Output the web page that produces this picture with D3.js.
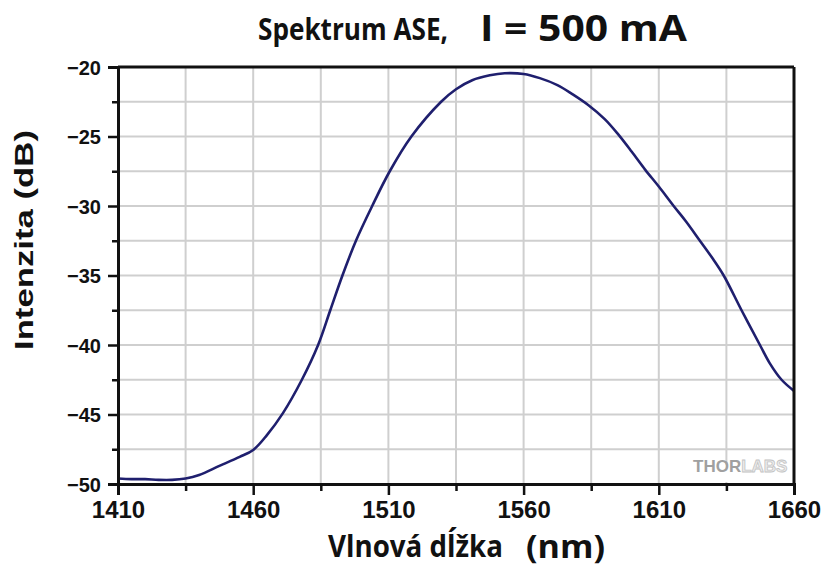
<!DOCTYPE html>
<html>
<head>
<meta charset="utf-8">
<script src="https://cdn.jsdelivr.net/npm/d3@7"></script>
<style>
  html, body { margin: 0; padding: 0; background: #fff; }
  svg { display: block; }
  .grid line { stroke: #cfcfcf; stroke-width: 2px; }
  .axis path, .axis line { stroke: #111; }
  .axis path { stroke-width: 3px; }
  .axis line { stroke-width: 2.5px; }
  .axis text { fill: #111; font-family: "Liberation Sans", Arial, sans-serif; font-weight: bold; }
</style>
</head>
<body>
<div id="chart"></div>
<script>
// ASE spectrum, pump current 500 mA
var wavelength = [1410, 1415, 1420, 1425, 1430, 1435, 1440, 1447.5, 1455, 1460,
                  1465, 1471, 1478, 1484, 1488.5, 1493, 1498, 1504, 1510.5, 1518.5,
                  1529.5, 1535, 1541, 1547.5, 1553, 1560, 1566, 1572.5, 1578, 1584,
                  1590, 1595, 1600, 1605, 1610, 1615.5, 1620, 1625.2, 1630, 1634,
                  1640.6, 1647.4, 1651, 1655.4, 1660];
var intensity  = [-49.6, -49.65, -49.65, -49.7, -49.7, -49.6, -49.35, -48.7, -48.05, -47.55,
                  -46.5, -44.9, -42.5, -40.0, -37.5, -35.0, -32.5, -30.0, -27.5, -25.0,
                  -22.5, -21.6, -20.95, -20.6, -20.45, -20.5, -20.8, -21.3, -21.95, -22.75,
                  -23.75, -24.85, -26.1, -27.4, -28.6, -30.0, -31.1, -32.5, -33.8, -35.0,
                  -37.5, -40.0, -41.3, -42.5, -43.3];
var x_ticks       = [1410, 1460, 1510, 1560, 1610, 1660];
var x_minor_ticks = [1435, 1485, 1535, 1585, 1635];
var y_ticks       = [-50, -45, -40, -35, -30, -25, -20];
var y_minor_ticks = [-47.5, -42.5, -37.5, -32.5, -27.5, -22.5];

var width  = 825;
var height = 569;
var left   = 118;
var right  = 794;
var top_y  = 67;
var bottom = 484;

var svg = d3.select("#chart").append("svg")
  .attr("width", width)
  .attr("height", height);

var x = d3.scaleLinear().domain([1410, 1660]).range([left, right]);
var y = d3.scaleLinear().domain([-50, -20]).range([bottom, top_y]);

// grid, every major and minor tick
var grid = svg.append("g").attr("class", "grid");
grid.selectAll("line.v")
  .data(x_ticks.concat(x_minor_ticks).filter(function (d) { return d > 1410 && d < 1660; }))
  .enter().append("line")
  .attr("class", "v")
  .attr("x1", function (d) { return x(d); })
  .attr("x2", function (d) { return x(d); })
  .attr("y1", y(-20))
  .attr("y2", y(-50));
grid.selectAll("line.h")
  .data(y_ticks.concat(y_minor_ticks).filter(function (d) { return d > -50 && d < -20; }))
  .enter().append("line")
  .attr("class", "h")
  .attr("x1", x(1410))
  .attr("x2", x(1660))
  .attr("y1", function (d) { return y(d); })
  .attr("y2", function (d) { return y(d); });

// logo patch in the lower right corner hides the grid under it
svg.append("rect")
  .attr("x", x(1619.5))
  .attr("y", y(-48.6))
  .attr("width", x(1660) - x(1619.5) - 2)
  .attr("height", y(-50) - y(-48.6) - 2)
  .attr("fill", "#fff");
var logo = svg.append("text")
  .attr("x", 693).attr("y", 472)
  .style("font-family", "Liberation Sans, Arial, sans-serif")
  .style("font-weight", "bold")
  .style("font-size", "17px");
logo.append("tspan").attr("fill", "#a0a0a0").text("THOR");
logo.append("tspan").attr("fill", "#ececec").attr("stroke", "#c4c4c4").attr("stroke-width", 0.8).text("LABS");

// spectrum trace
var line = d3.line()
  .curve(d3.curveCatmullRom.alpha(0.5))
  .x(function (d) { return x(d[0]); })
  .y(function (d) { return y(d[1]); });

svg.append("path")
  .datum(d3.zip(wavelength, intensity))
  .attr("d", line)
  .attr("fill", "none")
  .attr("stroke", "#1f1f6e")
  .attr("stroke-width", 2.6)
  .attr("stroke-linejoin", "round");

// frame on top and right
svg.append("line")
  .attr("x1", x(1410)).attr("x2", x(1660))
  .attr("y1", y(-20)).attr("y2", y(-20))
  .attr("stroke", "#111").attr("stroke-width", 3);
svg.append("line")
  .attr("x1", x(1660)).attr("x2", x(1660))
  .attr("y1", y(-20)).attr("y2", y(-50))
  .attr("stroke", "#111").attr("stroke-width", 3);

// axes
var x_axis = svg.append("g")
  .attr("class", "axis x")
  .attr("transform", "translate(0," + bottom + ")")
  .call(d3.axisBottom(x).tickValues(x_ticks).tickFormat(d3.format("d")).tickSize(11).tickPadding(6));
x_axis.selectAll("text").style("font-size", "24px");
svg.append("g")
  .attr("class", "axis x")
  .attr("transform", "translate(0," + bottom + ")")
  .call(d3.axisBottom(x).tickValues(x_minor_ticks).tickFormat("").tickSize(7))
  .select(".domain").remove();

var y_axis = svg.append("g")
  .attr("class", "axis y")
  .attr("transform", "translate(" + left + ",0)")
  .call(d3.axisLeft(y).tickValues(y_ticks).tickFormat(d3.format("d")).tickSize(10).tickPadding(7));
y_axis.selectAll("text").style("font-size", "20px").attr("dy", "0.36em");
svg.append("g")
  .attr("class", "axis y")
  .attr("transform", "translate(" + left + ",0)")
  .call(d3.axisLeft(y).tickValues(y_minor_ticks).tickFormat("").tickSize(6))
  .select(".domain").remove();

// titles
var title_font = "'Open Sans', 'Noto Sans', sans-serif";
svg.append("text")
  .attr("x", 258).attr("y", 40)
  .attr("textLength", 190).attr("lengthAdjust", "spacingAndGlyphs")
  .style("font-family", title_font).style("font-weight", "bold").style("font-size", "30px")
  .attr("fill", "#111")
  .text("Spektrum ASE,");
svg.append("text")
  .attr("x", 480).attr("y", 41)
  .attr("textLength", 207).attr("lengthAdjust", "spacingAndGlyphs")
  .style("font-family", title_font).style("font-weight", "bold").style("font-size", "36px")
  .attr("fill", "#111")
  .text("I = 500 mA");

svg.append("text")
  .attr("x", 328).attr("y", 557)
  .attr("textLength", 175).attr("lengthAdjust", "spacingAndGlyphs")
  .style("font-family", title_font).style("font-weight", "bold").style("font-size", "30px")
  .attr("fill", "#111")
  .text("Vlnová dĺžka");
svg.append("text")
  .attr("x", 526).attr("y", 558)
  .attr("textLength", 79).attr("lengthAdjust", "spacingAndGlyphs")
  .style("font-family", title_font).style("font-weight", "bold").style("font-size", "32px")
  .attr("fill", "#111")
  .text("(nm)");

svg.append("text")
  .attr("transform", "translate(33,240) rotate(-90)")
  .attr("text-anchor", "middle")
  .attr("textLength", 220).attr("lengthAdjust", "spacingAndGlyphs")
  .style("font-family", "Liberation Sans, Arial, sans-serif").style("font-weight", "bold").style("font-size", "26px")
  .attr("fill", "#111")
  .text("Intenzita (dB)");
</script>
</body>
</html>
